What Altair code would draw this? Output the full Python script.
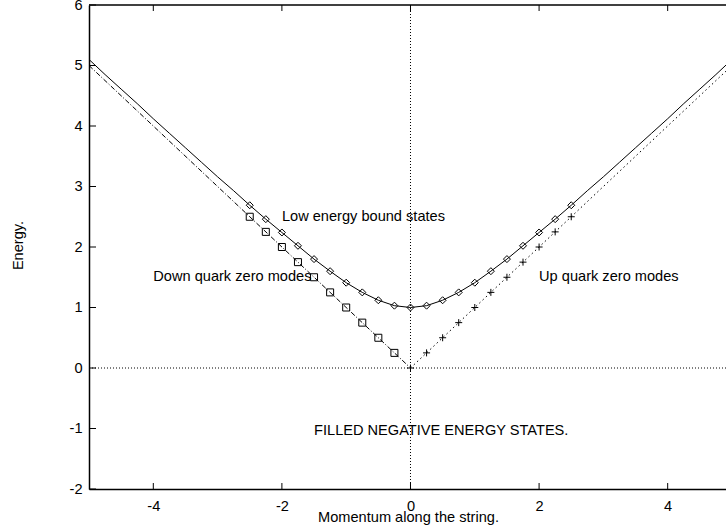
import altair as alt
import pandas as pd

# Bound-state branch (solid curve), sampled along the momentum axis
k_curve = [-5.0, -4.75, -4.5, -4.25, -4.0, -3.75, -3.5, -3.25, -3.0, -2.75,
           -2.5, -2.25, -2.0, -1.75, -1.5, -1.25, -1.0, -0.75, -0.5, -0.25,
           0.0, 0.25, 0.5, 0.75, 1.0, 1.25, 1.5, 1.75, 2.0, 2.25,
           2.5, 2.75, 3.0, 3.25, 3.5, 3.75, 4.0, 4.25, 4.5, 4.75, 5.0]
e_curve = [5.10, 4.85, 4.61, 4.37, 4.12, 3.88, 3.64, 3.40, 3.16, 2.93,
           2.69, 2.46, 2.24, 2.02, 1.80, 1.60, 1.41, 1.25, 1.12, 1.03,
           1.00, 1.03, 1.12, 1.25, 1.41, 1.60, 1.80, 2.02, 2.24, 2.46,
           2.69, 2.93, 3.16, 3.40, 3.64, 3.88, 4.12, 4.37, 4.61, 4.85, 5.10]

# Bound-state points (diamonds)
k_bound = [-2.5, -2.25, -2.0, -1.75, -1.5, -1.25, -1.0, -0.75, -0.5, -0.25, 0.0,
           0.25, 0.5, 0.75, 1.0, 1.25, 1.5, 1.75, 2.0, 2.25, 2.5]
e_bound = [2.69, 2.46, 2.24, 2.02, 1.80, 1.60, 1.41, 1.25, 1.12, 1.03, 1.00,
           1.03, 1.12, 1.25, 1.41, 1.60, 1.80, 2.02, 2.24, 2.46, 2.69]

# Down quark zero modes (squares) and their branch line
k_down = [-2.5, -2.25, -2.0, -1.75, -1.5, -1.25, -1.0, -0.75, -0.5, -0.25]
e_down = [2.5, 2.25, 2.0, 1.75, 1.5, 1.25, 1.0, 0.75, 0.5, 0.25]
k_down_line = [-5.0, 0.0]
e_down_line = [5.0, 0.0]

# Up quark zero modes (crosses) and their branch line
k_up = [0.0, 0.25, 0.5, 0.75, 1.0, 1.25, 1.5, 1.75, 2.0, 2.25, 2.5]
e_up = [0.0, 0.25, 0.5, 0.75, 1.0, 1.25, 1.5, 1.75, 2.0, 2.25, 2.5]
k_up_line = [0.0, 5.0]
e_up_line = [0.0, 5.0]

# Annotations
label_text = ["Low energy bound states", "Down quark zero modes",
              "Up quark zero modes", "FILLED NEGATIVE ENERGY STATES."]
label_k = [-2.0, -4.0, 2.0, -1.5]
label_e = [2.5, 1.5, 1.5, -1.04]

x_ticks = [-4, -2, 0, 2, 4]
y_ticks = [-2, -1, 0, 1, 2, 3, 4, 5, 6]

W, H = 637, 484
FONT = "Liberation Sans"
FS = 14.6

xs = alt.Scale(domain=[-5, 4.907], nice=False, zero=False)
ys = alt.Scale(domain=[-2, 6], nice=False, zero=False)

x_axis = alt.Axis(values=x_ticks, ticks=False, tickSize=0, grid=False,
                  labelPadding=9, labelExpr="'' + datum.value",
                  labelFont=FONT, labelFontSize=FS, labelColor="black",
                  domainColor="black", domainWidth=1.5,
                  title="Momentum along the string.", titleFont=FONT,
                  titleFontSize=FS, titleFontWeight="normal", titleColor="black",
                  titleX=W * 0.5 + 0.5, titleY=32, titleAlign="center",
                  titleBaseline="alphabetic")
y_axis = alt.Axis(values=y_ticks, ticks=False, tickSize=0, grid=False,
                  labelPadding=7, labelExpr="'' + datum.value",
                  labelFont=FONT, labelFontSize=FS, labelColor="black",
                  domainColor="black", domainWidth=1.5,
                  title="Energy.", titleFont=FONT, titleFontSize=FS,
                  titleFontWeight="normal", titleColor="black",
                  titleAngle=270, titleX=-67, titleY=240, titleAlign="center",
                  titleBaseline="alphabetic")


def X(field="k"):
    return alt.X(f"{field}:Q", scale=xs, axis=x_axis)


def Y(field="e"):
    return alt.Y(f"{field}:Q", scale=ys, axis=y_axis)


curve_df = pd.DataFrame({"k": k_curve, "e": e_curve})
bound_df = pd.DataFrame({"k": k_bound, "e": e_bound})
down_df = pd.DataFrame({"k": k_down, "e": e_down})
down_line_df = pd.DataFrame({"k": k_down_line, "e": e_down_line})
up_df = pd.DataFrame({"k": k_up, "e": e_up})
up_line_df = pd.DataFrame({"k": k_up_line, "e": e_up_line})
label_df = pd.DataFrame({"t": label_text, "k": label_k, "e": label_e})
xt_df = pd.DataFrame({"k": x_ticks})
yt_df = pd.DataFrame({"e": y_ticks})

# zero axes (dotted)
zero_x = alt.Chart(pd.DataFrame({"k": [0]})).mark_rule(
    color="black", strokeWidth=1, strokeDash=[1, 2]
).encode(x=X(), y=alt.value(0), y2=alt.value(H))
zero_y = alt.Chart(pd.DataFrame({"e": [0]})).mark_rule(
    color="black", strokeWidth=1, strokeDash=[1, 2]
).encode(y=Y(), x=alt.value(0), x2=alt.value(W))

# top border
top_border = alt.Chart(pd.DataFrame({"e": [6]})).mark_rule(
    color="black", strokeWidth=1.5
).encode(y=Y(), x=alt.value(0), x2=alt.value(W))

# inward tick marks, bottom/top and left
tick_bottom = alt.Chart(xt_df).mark_rule(color="black", strokeWidth=1).encode(
    x=X(), y=alt.value(H), y2=alt.value(H - 6))
tick_top = alt.Chart(xt_df).mark_rule(color="black", strokeWidth=1).encode(
    x=X(), y=alt.value(0), y2=alt.value(6))
tick_left = alt.Chart(yt_df).mark_rule(color="black", strokeWidth=1).encode(
    y=Y(), x=alt.value(0), x2=alt.value(7))

curve = alt.Chart(curve_df).mark_line(
    color="black", strokeWidth=1, clip=True
).encode(x=X(), y=Y(), order="k:Q")
down_line = alt.Chart(down_line_df).mark_line(
    color="black", strokeWidth=1, strokeDash=[5, 2, 1, 2], clip=True
).encode(x=X(), y=Y())
up_line = alt.Chart(up_line_df).mark_line(
    color="black", strokeWidth=1, strokeDash=[1.5, 3], clip=True
).encode(x=X(), y=Y())

bound_pts = alt.Chart(bound_df).mark_point(
    shape="diamond", size=49, filled=False, color="black", strokeWidth=1, opacity=1
).encode(x=X(), y=Y())
down_pts = alt.Chart(down_df).mark_point(
    shape="square", size=49, filled=False, color="black", strokeWidth=1, opacity=1
).encode(x=X(), y=Y())
up_pts = alt.Chart(up_df).mark_point(
    shape="M-1,0L1,0M0,-1L0,1", size=49, filled=False, color="black",
    strokeWidth=1, opacity=1
).encode(x=X(), y=Y())

labels = alt.Chart(label_df).mark_text(
    align="left", baseline="middle", font=FONT, fontSize=FS, color="black"
).encode(x=X(), y=Y(), text="t:N")

chart = alt.layer(
    zero_x, zero_y, top_border, tick_bottom, tick_top, tick_left,
    curve, down_line, up_line, bound_pts, down_pts, up_pts, labels
).properties(
    width=W, height=H,
    autosize=alt.AutoSizeParams(type="none"),
    padding={"left": 89, "top": 5, "right": 0, "bottom": 42},
    background="white",
).configure_view(stroke=None)

chart.save("out.html", embed_options={"renderer": "svg", "actions": False})
